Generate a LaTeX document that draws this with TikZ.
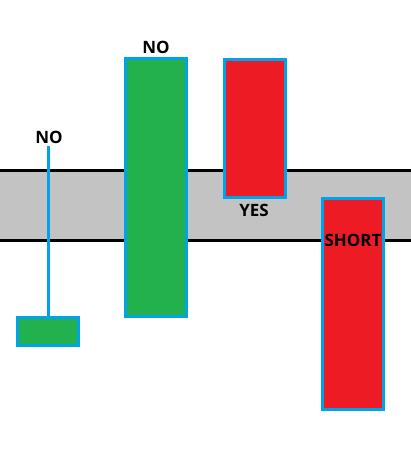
\documentclass[tikz,border=0pt]{standalone}
\usepackage{fontspec}
\setmainfont{Open Sans}
\definecolor{bandGray}{HTML}{C3C3C3}
\definecolor{bullGreen}{HTML}{22B14C}
\definecolor{bearRed}{HTML}{ED1C24}
\definecolor{edgeBlue}{HTML}{00A2E8}
\tikzset{
  candle/.style={draw=edgeBlue, line width=3pt, inner sep=0pt, minimum width=61pt},
  tag/.style={font=\fontsize{17}{20}\selectfont\bfseries, inner sep=0pt}
}

\begin{document}
\begin{tikzpicture}[x=1pt, y=-1pt]
    \useasboundingbox (0,0) rectangle (411,450);

    % grey zone between the two levels
    \fill[bandGray] (0,170.5) rectangle (411,240);
    \draw[line width=3pt] (0,170.5) -- (411,170.5);
    \draw[line width=3pt] (0,240) -- (411,240);

    % candles
    \node[candle, fill=bullGreen, minimum height=28pt] (small) at (48,331.5) {};
    \node[candle, fill=bullGreen, minimum height=258pt] (tall) at (156,187.5) {};
    \node[candle, fill=bearRed, minimum height=138pt] (upper) at (255,128.5) {};
    \node[candle, fill=bearRed, minimum height=211pt] (lower) at (353,304) {};

    % wick of the small candle
    \coordinate (wicktop) at (48,146);
    \draw[edgeBlue, line width=3pt] (wicktop) -- (small.north);

    % labels
    \node[tag] (noSmall) at (49,137) {NO};
    \node[tag] (noTall) at (156,47) {NO};
    \node[tag] (yes) at (254,210) {YES};
    \node[tag] (short) at (353,240) {SHORT};

\end{tikzpicture}
\end{document}
